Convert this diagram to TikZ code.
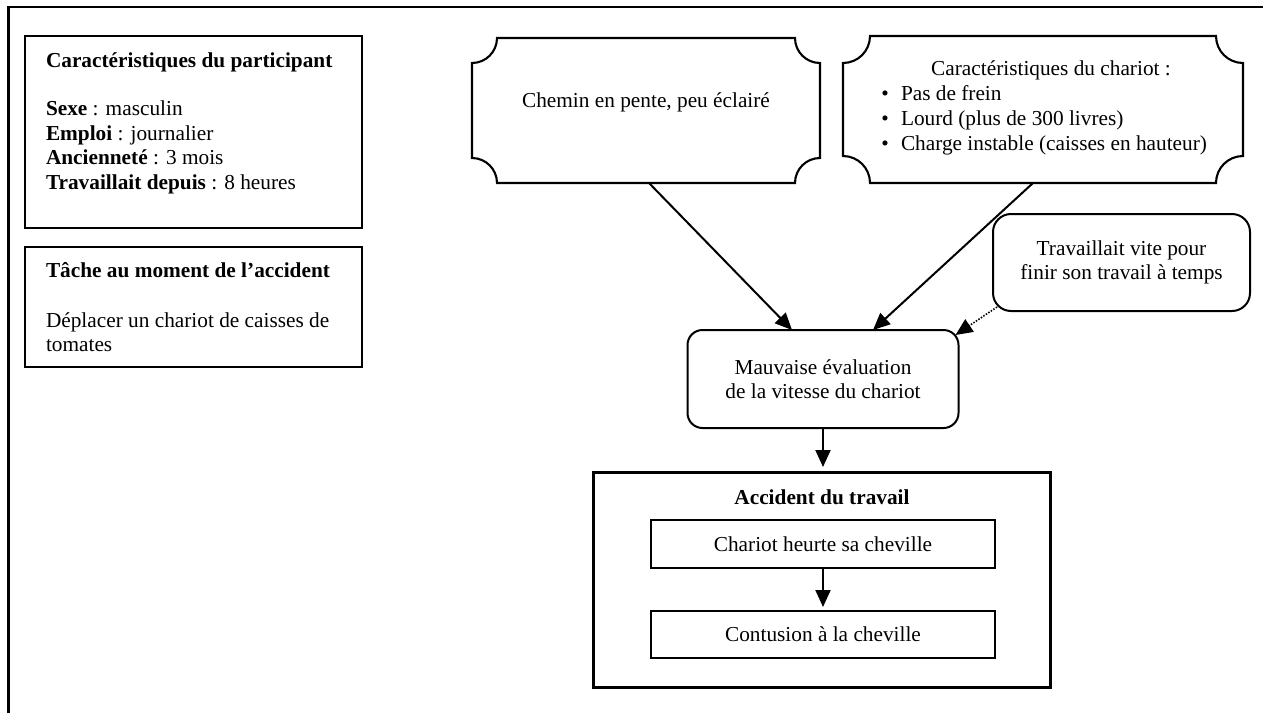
\documentclass[tikz,border=0pt]{standalone}
\usepackage{fontspec}
\setmainfont{Liberation Serif}
\usetikzlibrary{arrows.meta,calc}

% Outline of a plaque-shaped node: rectangle with concave quarter-circle corners.
% #1 = node name, #2 = notch radius (offsets use the picture's downward y axis)
\newcommand\plaqueoutline[2]{%
  \draw[plaqueline]
    ($(#1.north west)+(#2,0)$) -- ($(#1.north east)+(-#2,0)$)
    .. controls ($(#1.north east)+(-#2,0.5523*#2)$) and ($(#1.north east)+(-0.5523*#2,#2)$) .. ($(#1.north east)+(0,#2)$)
    -- ($(#1.south east)+(0,-#2)$)
    .. controls ($(#1.south east)+(-0.5523*#2,-#2)$) and ($(#1.south east)+(-#2,-0.5523*#2)$) .. ($(#1.south east)+(-#2,0)$)
    -- ($(#1.south west)+(#2,0)$)
    .. controls ($(#1.south west)+(#2,-0.5523*#2)$) and ($(#1.south west)+(0.5523*#2,-#2)$) .. ($(#1.south west)+(0,-#2)$)
    -- ($(#1.north west)+(0,#2)$)
    .. controls ($(#1.north west)+(0.5523*#2,#2)$) and ($(#1.north west)+(#2,0.5523*#2)$) .. cycle;
}

\tikzset{
  basefont/.style={font=\fontsize{21.3}{24.6}\selectfont},
  txt/.style={basefont, inner sep=0pt, outer sep=0pt},
  box/.style={draw, line width=1.7pt, inner sep=0pt, outer sep=0pt},
  plaquebox/.style={inner sep=0pt, outer sep=0pt},
  plaqueline/.style={line width=2.1pt, line join=miter},
  rbox/.style={draw, line width=2pt, rounded corners=15pt, align=center,
               inner sep=0pt, outer sep=0pt, basefont},
  accbox/.style={draw, line width=3pt, inner sep=0pt, outer sep=0pt},
  stepbox/.style={draw, line width=1.7pt, inner sep=0pt, outer sep=0pt, basefont},
  arr/.style={line width=2pt, -{Triangle[length=17pt,width=15pt]}},
  dotarr/.style={line width=1.6pt, dash pattern=on 1.5pt off 1.5pt,
                 -{Triangle[length=17pt,width=15pt]}},
}

\begin{document}
\begin{tikzpicture}[x=1pt, y=-1pt]
\useasboundingbox (0,0) rectangle (1263,713);

% page frame (top and left edges)
\draw[line width=2.4pt] (8.5,713) -- (8.5,7) -- (1263,7);

% participant characteristics
\node[box, minimum width=337, minimum height=192] (part) at (193.5,132) {};
\node[txt, anchor=base west] (partT) at (46,67) {\textbf{Caractéristiques du participant}};
\node[txt, anchor=base west] (partA) at (46,115) {\textbf{Sexe} : masculin};
\node[txt, anchor=base west] (partB) at (46,140) {\textbf{Emploi} : journalier};
\node[txt, anchor=base west] (partC) at (46,164.5) {\textbf{Ancienneté} : 3 mois};
\node[txt, anchor=base west] (partD) at (46,189) {\textbf{Travaillait depuis} : 8 heures};

% task
\node[box, minimum width=337, minimum height=120] (task) at (193.5,307) {};
\node[txt, anchor=base west] (taskT) at (46,277) {\textbf{Tâche au moment de l’accident}};
\node[txt, anchor=base west] (taskA) at (46,327) {Déplacer un chariot de caisses de};
\node[txt, anchor=base west] (taskB) at (46,351) {tomates};

% path plaque
\node[plaquebox, minimum width=348, minimum height=145] (p1) at (646,110.5) {};
\plaqueoutline{p1}{25}
\node[txt, anchor=base] (p1T) at (646,107) {Chemin en pente, peu éclairé};

% cart plaque
\node[plaquebox, minimum width=400, minimum height=147] (p2) at (1043,109.5) {};
\plaqueoutline{p2}{27}
\node[txt, anchor=base] (p2T) at (1051,75) {Caractéristiques du chariot :};
\node[txt, anchor=base] (p2b1) at (885,100) {\textbullet};
\node[txt, anchor=base west] (p2A) at (901,100) {Pas de frein};
\node[txt, anchor=base] (p2b2) at (885,125) {\textbullet};
\node[txt, anchor=base west] (p2B) at (901,125) {Lourd (plus de 300 livres)};
\node[txt, anchor=base] (p2b3) at (885,150) {\textbullet};
\node[txt, anchor=base west] (p2C) at (901,150) {Charge instable (caisses en hauteur)};

% working fast
\node[rbox, minimum width=257, minimum height=97, rounded corners=18pt] (tv) at (1121.5,262.5)
  {Travaillait vite pour\\finir son travail à temps};

% misjudged speed
\node[rbox, minimum width=271, minimum height=98] (mv) at (823,379)
  {Mauvaise évaluation\\de la vitesse du chariot};

% accident block
\node[accbox, minimum width=457, minimum height=215] (acc) at (821.5,579.5) {};
\node[txt, anchor=base] (accT) at (822,504) {\textbf{Accident du travail}};
\node[stepbox, minimum width=344, minimum height=48] (hit) at (823,544) {Chariot heurte sa cheville};
\node[stepbox, minimum width=344, minimum height=47] (bruise) at (823,634.5) {Contusion à la cheville};

% connectors
\draw[arr] ($(p1.south)+(3,0)$) -- ($(mv.north)+(-31,0)$);
\draw[arr] ($(p2.south)+(-10,0)$) -- ($(mv.north)+(50,0)$);
\draw[dotarr] ($(tv.south west)+(4,-4)$) -- ($(mv.north east)+(-3,5)$);
\draw[arr, shorten >=5pt] (mv.south) -- (mv.south |- acc.north);
\draw[arr, shorten >=4pt] (hit.south) -- (bruise.north);
\end{tikzpicture}
\end{document}
